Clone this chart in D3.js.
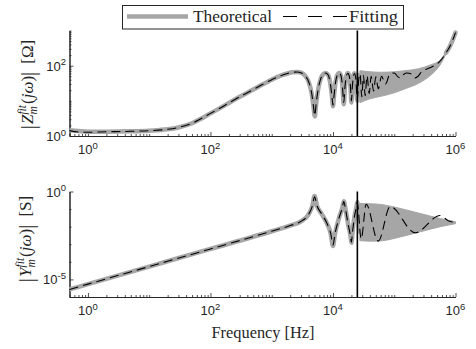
<!DOCTYPE html>
<html><head><meta charset="utf-8">
<script src="https://cdn.jsdelivr.net/npm/d3@7"></script>
<style>body{margin:0;background:#fff}svg{display:block}
.serif{font-family:"Liberation Serif","DejaVu Serif",serif}
.sans{font-family:"Liberation Sans","DejaVu Sans",sans-serif}</style>
</head><body>
<script>
// ---------- data ----------
const zTheoLowFreq = [0.5,0.7,1,2,5,10,20,30,50,70,100,150,200,300,500,700,1000,1400,1800,2200,2600,3000,3500,4000,4500,4800,5050,5300,5700,6300,7000,7600,8300,9000,9600,10000,10400,11000,11800,12600,13500,14300,15000,15700,16600,17500,18500,19300,20000,20700,21600,22500,23500,25000,26300,27500];
const zTheoLowVal  = [1.45,1.38,1.33,1.33,1.36,1.42,1.55,1.75,2.3,3.1,4.4,6.5,8.7,13,21,29,40,52,60,65,66,63,52,35,16,7,3.6,8,20,42,58,62,55,33,14,7,14,33,55,62,52,25,8,25,52,62,50,25,9,25,52,61,45,10,45,60];
const zBandFreq  = [27500,40000,60000,100000,150000,250000,400000,550000,700000];
const zBandUpper = [72,67,65,67,72,82,107,139,250];
const zBandLower = [8.8,11.4,13.4,16.9,22,31.5,55,100,215];
const zTheoHighFreq = [700000,800000,900000,1000000];
const zTheoHighVal  = [232,340,540,870];
const zFitFreq = [0.5,0.7,1,2,5,10,20,30,50,70,100,150,200,300,500,700,1000,1400,1800,2200,2600,3000,3500,4000,4500,4800,5050,5300,5700,6300,7000,7600,8300,9000,9600,10000,10400,11000,11800,12600,13500,14300,15000,15700,16600,17500,18500,19300,20000,20700,21600,22500,23500,25000,26300,27700,29500,31500,33500,36000,39000,42000,46000,50000,55000,62000,72000,85000,100000,115000,128000,140000,160000,190000,220000,245000,280000,350000,450000,550000,700000,850000,1000000];
const zFitVal  = [1.42,1.3,1.28,1.32,1.36,1.42,1.55,1.75,2.3,3.1,4.4,6.5,8.7,13,21,29,40,52,60,65,66,63,52,35,16,7,3.8,8,20,42,58,62,55,33,14,7.5,14,33,55,62,52,25,9,25,52,61,50,25,10,25,52,60,45,11,40,58,13,52,14,52,16,50,19,48,22,50,30,58,62,48,45,55,62,58,45,50,68,82,100,130,230,420,870];

const yTheoFreq = [0.5,1,10,100,1000,2000,3000,4000,4600,5000,5500,6500,8000,9200,10000,10800,12500,14200,15000,16000,17800,19300,20000,20700,22500,24000,25000,26200,27500];
const yTheoVal  = [2.7e-6,5.4e-6,5.4e-5,5.4e-4,5.5e-3,0.0115,0.02,0.05,0.15,0.55,0.15,0.055,0.015,0.004,0.0008,0.004,0.03,0.12,0.28,0.1,0.012,0.003,0.0012,0.004,0.04,0.12,0.25,0.05,0.004];
const yBandFreq  = [27500,40000,59000,125000,266000,565000,1000000];
const yBandUpper = [0.211,0.20,0.185,0.109,0.056,0.029,0.019];
const yBandLower = [0.0016,0.0015,0.00155,0.0026,0.0051,0.010,0.0148];
const yFitFreq = [0.5,1,10,100,1000,2000,3000,4000,4600,5000,5500,6500,8000,9200,10000,10800,12500,14200,15000,16000,17800,19300,20000,20700,22500,24000,24800,28900,34800,54700,86000,219000,560000,760000,1000000];
const yFitVal  = [2.7e-6,5.4e-6,5.4e-5,5.4e-4,5.5e-3,0.0115,0.02,0.05,0.15,0.5,0.15,0.055,0.015,0.004,0.0009,0.004,0.03,0.12,0.27,0.1,0.012,0.003,0.0013,0.004,0.04,0.12,0.24,0.002,0.19,0.0015,0.14,0.0045,0.043,0.022,0.017];

const markerFreq = 25000;

const xTickValues = [1,1e2,1e4,1e6];
const xTickLabels = [["10","0"],["10","2"],["10","4"],["10","6"]];
const zTickValues = [1,1e2];
const zTickLabels = [["10","0"],["10","2"]];
const yTickValues = [1e-5,1];
const yTickLabels = [["10","-5"],["10","0"]];
const legendLabels = ["Theoretical","Fitting"];

// ---------- drawing ----------
const W=476,H=349;
const gray="#a6a6a6", axc="#262626";
const svg=d3.select("body").append("svg").attr("width",W).attr("height",H);

const x=d3.scaleLog().domain([0.5,1e6]).range([69.5,455.5]);
const yZ=d3.scaleLog().domain([1,1000]).range([136,30.5]);
const yY=d3.scaleLog().domain([1e-6,1]).range([297,191.5]);

const curve=d3.curveMonotoneX;
function line(ys){return d3.line().x(d=>x(d[0])).y(d=>ys(d[1])).curve(curve);}
function zip(a,b){return a.map((v,i)=>[v,b[i]]);}

function panel(ys, ticksMajor, labels, minorY){
  const g=svg.append("g");
  const y0=ys.range()[0];
  const minorX=x.ticks().filter(v=>!ticksMajor.x.includes(v));
  g.append("g").attr("transform",`translate(0,${y0})`)
    .call(d3.axisBottom(x).tickValues(minorX).tickSize(-2).tickSizeOuter(0).tickFormat(""));
  g.append("g").attr("transform",`translate(0,${y0})`)
    .call(d3.axisBottom(x).tickValues(ticksMajor.x).tickSize(-4).tickSizeOuter(0).tickFormat(""));
  g.append("g").attr("transform",`translate(${x.range()[0]},0)`)
    .call(d3.axisLeft(ys).tickValues(minorY).tickSize(-2).tickSizeOuter(0).tickFormat(""));
  g.append("g").attr("transform",`translate(${x.range()[0]},0)`)
    .call(d3.axisLeft(ys).tickValues(ticksMajor.y).tickSize(-4).tickSizeOuter(0).tickFormat(""));
  g.selectAll(".domain,.tick line").attr("stroke",axc).attr("stroke-width",0.8);
  g.selectAll(".domain").attr("stroke-width",1);
  ticksMajor.x.forEach((v,i)=>{
    const t=g.append("text").attr("class","sans").attr("x",x(v)).attr("y",y0+18).attr("text-anchor","middle")
      .attr("font-size",13).attr("fill",axc);
    t.append("tspan").text(xTickLabels[i][0]);
    t.append("tspan").attr("font-size",9.5).attr("dy",-5.5).text(xTickLabels[i][1]);
  });
  ticksMajor.y.forEach((v,i)=>{
    const t=g.append("text").attr("class","sans").attr("x",66).attr("y",ys(v)+5).attr("text-anchor","end")
      .attr("font-size",13).attr("fill",axc);
    t.append("tspan").text(labels[i][0]);
    t.append("tspan").attr("font-size",9.5).attr("dy",-5.5).text(labels[i][1]);
  });
  return g;
}

const zMinor=yZ.ticks().filter(v=>!zTickValues.includes(v));
const gTop=panel(yZ,{x:xTickValues,y:zTickValues},zTickLabels,zMinor);
const gYMinor=[1e-6,1e-4,1e-3,1e-2,1e-1];
const gBot=panel(yY,{x:xTickValues,y:yTickValues},yTickLabels,gYMinor);

function drawSeries(g, ys, lowF, lowV, bandF, bandU, bandL, highF, highV, fitF, fitV){
  const area=d3.area().x(d=>x(d[0])).y0(d=>ys(d[2])).y1(d=>ys(d[1])).curve(curve);
  g.append("path").datum(bandF.map((f,i)=>[f,bandU[i],bandL[i]]))
    .attr("d",area).attr("fill",gray).attr("stroke",gray).attr("stroke-width",1);
  g.append("path").datum(zip(lowF,lowV)).attr("d",line(ys))
    .attr("fill","none").attr("stroke",gray).attr("stroke-width",4.5).attr("stroke-linejoin","round");
  if(highF){
    g.append("path").datum(zip(highF,highV)).attr("d",line(ys))
      .attr("fill","none").attr("stroke",gray).attr("stroke-width",4.5).attr("stroke-linecap","round");
  }
  g.append("path").datum(zip(fitF,fitV)).attr("d",line(ys))
    .attr("fill","none").attr("stroke","#000").attr("stroke-width",1.1).attr("stroke-dasharray","9,5");
  g.append("line").attr("x1",x(markerFreq)).attr("x2",x(markerFreq))
    .attr("y1",ys.range()[0]).attr("y2",ys.range()[1]).attr("stroke","#000").attr("stroke-width",1.6);
}
drawSeries(gTop,yZ,zTheoLowFreq,zTheoLowVal,zBandFreq,zBandUpper,zBandLower,zTheoHighFreq,zTheoHighVal,zFitFreq,zFitVal);
drawSeries(gBot,yY,yTheoFreq,yTheoVal,yBandFreq,yBandUpper,yBandLower,null,null,yFitFreq,yFitVal);

function rich(parent, cx, cy, rot, pieces){
  const g=parent.append("g").attr("transform",`translate(${cx},${cy}) rotate(${rot})`);
  const inner=g.append("g");
  let px=0, stackX=null, stackW=0;
  pieces.forEach(p=>{
    px+=(p.pad||0);
    const t=inner.append("text").attr("class","serif").attr("x",px).attr("y",p.dy||0)
      .attr("font-size",p.size||17).attr("font-style",p.it?"italic":"normal")
      .attr("fill","#262626").text(p.t);
    const w=t.node().getComputedTextLength();
    if(p.stack){stackX=px;stackW=w;}
    else if(stackX!==null){px=stackX+Math.max(stackW,w);stackX=null;}
    else px+=w;
  });
  inner.attr("transform",`translate(${-px/2},0)`);
  return g;
}
const zLabel=[{t:"|",size:21,dy:2},{t:"Z",it:true,pad:1},{t:"m",it:true,size:11.5,dy:4,stack:true},{t:"fit",it:true,size:11.5,dy:-7.5},
  {t:"(",pad:1},{t:"j",it:true},{t:"ω",it:true},{t:")"},{t:"|",size:21,dy:2},{t:"[Ω]",pad:8}];
const yLabel=[{t:"|",size:21,dy:2},{t:"Y",it:true,pad:1},{t:"m",it:true,size:11.5,dy:4,stack:true},{t:"fit",it:true,size:11.5,dy:-7.5},
  {t:"(",pad:1},{t:"j",it:true},{t:"ω",it:true},{t:")"},{t:"|",size:21,dy:2},{t:"[S]",pad:8}];
rich(svg,33,84.5,-90,zLabel);
rich(svg,31,239,-90,yLabel);

svg.append("text").attr("class","serif").attr("x",263).attr("y",338).attr("text-anchor","middle")
  .attr("font-size",16).attr("fill","#262626").attr("textLength",103).attr("lengthAdjust","spacingAndGlyphs").text("Frequency [Hz]");

const lg=svg.append("g");
lg.append("rect").attr("x",122.5).attr("y",5.5).attr("width",281).attr("height",23.5)
  .attr("fill","#fff").attr("stroke","#262626").attr("stroke-width",1);
lg.append("line").attr("x1",127).attr("x2",188).attr("y1",16.5).attr("y2",16.5).attr("stroke",gray).attr("stroke-width",4.5);
lg.append("text").attr("class","serif").attr("x",193).attr("y",22)
  .attr("font-size",16).attr("fill","#262626").attr("textLength",79).attr("lengthAdjust","spacingAndGlyphs").text(legendLabels[0]);
lg.append("line").attr("x1",283).attr("x2",347).attr("y1",16.5).attr("y2",16.5).attr("stroke","#000")
  .attr("stroke-width",1.1).attr("stroke-dasharray","14,11");
lg.append("text").attr("class","serif").attr("x",349).attr("y",22)
  .attr("font-size",16).attr("fill","#262626").attr("textLength",49).attr("lengthAdjust","spacingAndGlyphs").text(legendLabels[1]);
</script>
</body></html>
